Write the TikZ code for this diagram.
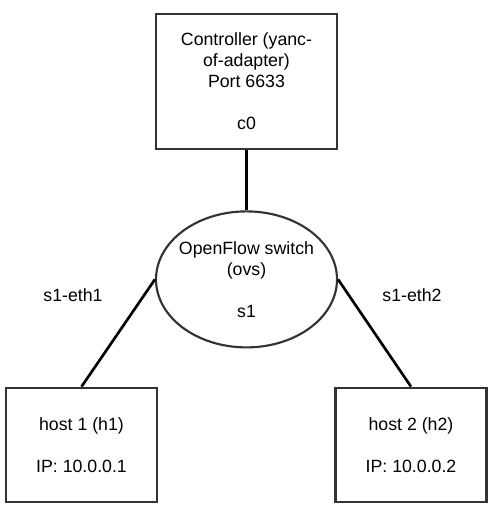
\documentclass[tikz,border=0pt]{standalone}
\usepackage{fontspec}
\setmainfont{Liberation Sans}
\usepackage{xcolor}
\definecolor{EdgeGray}{RGB}{51,51,51}
\usetikzlibrary{positioning, shapes.geometric}
\newcommand\diagfont{\fontsize{13.3}{15.75}\selectfont}

\begin{document}
\begin{tikzpicture}[
    x=0.75pt, y=0.75pt,
    node distance=45pt,
    box/.style={rectangle, draw=EdgeGray, line width=2pt, align=center, font=\diagfont, inner sep=0pt},
    ctrl/.style={box, minimum width=135.75pt, minimum height=101.25pt},
    host/.style={box, minimum width=113.25pt, minimum height=85.5pt},
    ofswitch/.style={ellipse, draw=EdgeGray, line width=1.6pt, align=center, font=\diagfont, inner xsep=-5pt, inner ysep=0pt, minimum width=135.75pt, minimum height=102pt},
    link/.style={line width=2pt},
    portlabel/.style={font=\diagfont},
]
\useasboundingbox[fill=white] (0,0) rectangle (494,506);

% controller
\node[ctrl] (c0) at (246.5,424.5) {
    Controller (yanc-\\
    of-adapter)\\
    Port 6633\\[15.75pt]
    c0
};

% switch
\node[ofswitch, below=45pt of c0] (s1) {
    OpenFlow switch\\
    (ovs)\\[15.75pt]
    s1
};

% hosts
\node[host] (h1) at (81.5,61) {
    host 1 (h1)\\[15.75pt]
    IP: 10.0.0.1
};
\node[host] (h2) at (411,61) {
    host 2 (h2)\\[15.75pt]
    IP: 10.0.0.2
};

% links
\draw[link] (c0) -- (s1);
\draw[link] (s1.west) -- (h1.north);
\draw[link] (s1.east) -- (h2.north);

% port labels
\node[portlabel] (eth1) at (73,211) {s1-eth1};
\node[portlabel] (eth2) at (412,211) {s1-eth2};

\end{tikzpicture}
\end{document}
